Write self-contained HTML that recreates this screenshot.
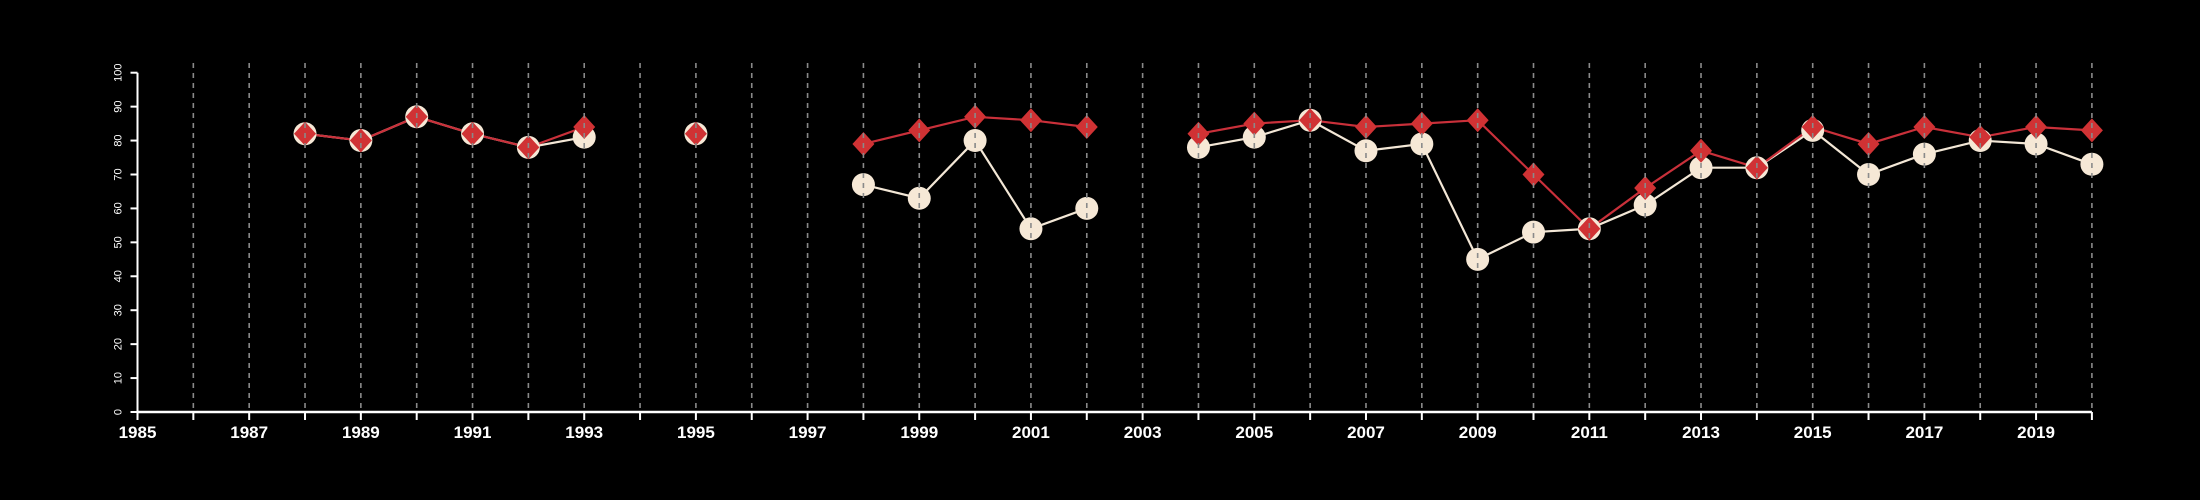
<!DOCTYPE html>
<html><head><meta charset="utf-8"><style>
body{margin:0;background:#000;}
svg{display:block;font-family:"Liberation Sans",sans-serif;}
</style></head><body>
<svg id="chart" width="2200" height="500" viewBox="0 0 2200 500" xmlns="http://www.w3.org/2000/svg">
<rect width="2200" height="500" fill="#000"/>
<g id="series"></g>
<g id="axes"></g>
</svg>
<script>
const years = [1986,1987,1988,1989,1990,1991,1992,1993,1994,1995,1996,1997,1998,1999,2000,2001,2002,2003,2004,2005,2006,2007,2008,2009,2010,2011,2012,2013,2014,2015,2016,2017,2018,2019,2020];
const whiteSeries = [null,null,82,80,87,82,78,81,null,82,null,null,67,63,80,54,60,null,78,81,86,77,79,45,53,54,61,72,72,83,70,76,80,79,73];
const redSeries = [null,null,82,80,87,82,78,84,null,82,null,null,79,83,87,86,84,null,82,85,86,84,85,86,70,54,66,77,72,84,79,84,81,84,83];
const yTicks = [0,10,20,30,40,50,60,70,80,90,100];
const xLabels = [1985,1987,1989,1991,1993,1995,1997,1999,2001,2003,2005,2007,2009,2011,2013,2015,2017,2019];

const NS="http://www.w3.org/2000/svg";
const x0=137.5, xStep=55.84, yBase=412, yUnit=3.393;
const X=yr=>x0+(yr-1985)*xStep;
const Y=v=>yBase-v*yUnit;
function mk(tag,attrs,parent){const e=document.createElementNS(NS,tag);for(const k in attrs)e.setAttribute(k,attrs[k]);parent.appendChild(e);return e;}
const ser=document.getElementById('series'),axes=document.getElementById('axes');

function drawSeries(vals,color,name){
  let seg=[];
  const flush=()=>{if(seg.length>1){const p=mk('polyline',{points:seg.join(' '),fill:'none',stroke:color,'stroke-width':2.2},ser);
    
    }seg=[];};
  vals.forEach((v,i)=>{if(v==null){flush();return;}seg.push(X(years[i])+','+Y(v));});
  flush();
}
drawSeries(whiteSeries,'#f3e7d6','white-series');
drawSeries(redSeries,'#c9303a','red-series');
whiteSeries.forEach((v,i)=>{if(v==null)return;
  const c=mk('ellipse',{cx:X(years[i]),cy:Y(v),rx:11.5,ry:11.5,fill:'#f6e8d6'},ser);
  
  });
redSeries.forEach((v,i)=>{if(v==null)return;
  const cx=X(years[i]),cy=Y(v);
  const d=mk('polygon',{points:`${cx},${cy-12} ${cx+11},${cy} ${cx},${cy+12} ${cx-11},${cy}`,fill:'#d03234'},ser);
  
  });
years.forEach(yr=>{
  const l=mk('line',{x1:X(yr),x2:X(yr),y1:63,y2:yBase,stroke:'#8a8a8a','stroke-width':1.6,'stroke-dasharray':'5,5'},ser);
  
  });
const ya=mk('line',{x1:x0,x2:x0,y1:Y(100),y2:yBase,stroke:'#fff','stroke-width':2},axes);


const xa=mk('line',{x1:x0,x2:X(2020),y1:yBase,y2:yBase,stroke:'#fff','stroke-width':2.5},axes);


yTicks.forEach(t=>{
  mk('line',{x1:x0-7,x2:x0,y1:Y(t),y2:Y(t),stroke:'#fff','stroke-width':2},axes);
  const tx=mk('text',{x:0,y:0,fill:'#fff','font-size':11,'text-anchor':'middle',transform:`translate(${x0-19},${Y(t)}) rotate(-90)`,'dominant-baseline':'middle'},axes);
  tx.textContent=t;
  
  });
[1985].concat(years).forEach(yr=>{mk('line',{x1:X(yr),x2:X(yr),y1:yBase,y2:yBase+8,stroke:'#fff','stroke-width':2},axes);});
xLabels.forEach(yr=>{
  const tx=mk('text',{x:X(yr),y:yBase+26,fill:'#fff','font-size':17,'font-weight':'bold','text-anchor':'middle'},axes);
  tx.textContent=yr;
  
  });
</script>
</body></html>
